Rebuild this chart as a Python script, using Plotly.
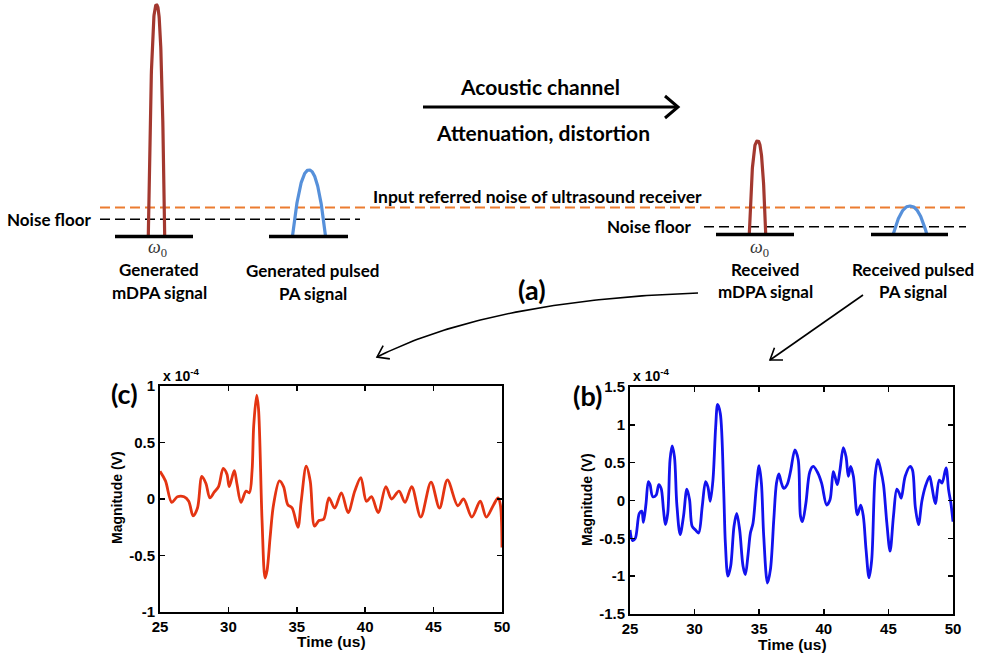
import numpy as np
import plotly.graph_objects as go

# ---------------- data ----------------
sig_c_t = [25, 25.4, 25.86, 26.27, 26.76, 27.1, 27.42, 27.74, 28.06, 28.35,
           28.65, 28.96, 29.28, 29.62, 29.89, 30.06, 30.43, 30.63, 30.92, 31.29,
           31.53, 31.73, 31.85, 32.07, 32.2, 32.46, 32.68, 32.83, 33.05, 33.3,
           33.73, 34.03, 34.34, 34.66, 35.08, 35.32, 35.69, 35.98, 36.3, 36.62,
           36.96, 37.35, 37.77, 38.26, 38.75, 39.24, 39.68, 40.09, 40.46, 40.95,
           41.51, 41.93, 42.47, 42.91, 43.4, 44.06, 44.81, 45.43, 46.01, 46.77,
           47.19, 47.8, 48.41, 48.85, 49.39, 49.71, 49.88, 50]
sig_c_v = [0.245, 0.16, -0.03, 0.02, 0.02, -0.02, -0.15, -0.08, 0.2, 0.14,
           0.01, 0.06, 0.11, 0.27, 0.22, 0.11, 0.25, 0.13, -0.03, 0.07,
           0.055, 0.25, 0.65, 0.92, 0.8, -0.19, -0.70, -0.63, -0.34, -0.05,
           0.16, 0.11, -0.05, -0.08, -0.25, -0.02, 0.29, 0.16, -0.24, -0.19,
           -0.18, 0.01, -0.08, 0.055, -0.12, 0.07, 0.19, -0.02, 0.02, -0.12,
           0.11, 0.0, 0.07, -0.03, 0.11, -0.16, 0.15, -0.08, 0.17, -0.06,
           0.0, -0.16, -0.02, -0.16, -0.05, 0.01, -0.05, -0.43]

sig_b_t = [25, 25.2, 25.41, 25.72, 25.91, 26.04, 26.24, 26.42, 26.55, 26.76,
           27.02, 27.23, 27.41, 27.59, 27.74, 27.92, 28.1, 28.26, 28.44, 28.62,
           28.88, 29.14, 29.4, 29.61, 29.81, 30.07, 30.31, 30.59, 30.85, 31.03,
           31.21, 31.42, 31.63, 31.78, 31.99, 32.25, 32.38, 32.58, 32.79, 33.05,
           33.26, 33.49, 33.75, 33.93, 34.14, 34.32, 34.52, 34.78, 34.99, 35.17,
           35.35, 35.64, 35.87, 36.13, 36.34, 36.52, 36.72, 36.9, 37.16, 37.42,
           37.76, 38.02, 38.2, 38.35, 38.61, 38.92, 39.18, 39.49, 39.83, 40.22,
           40.48, 40.73, 40.86, 41.05, 41.25, 41.51, 41.72, 41.9, 42.08, 42.29,
           42.6, 42.86, 43.06, 43.27, 43.5, 43.71, 43.97, 44.18, 44.41, 44.62,
           44.88, 45.13, 45.39, 45.65, 45.83, 45.99, 46.3, 46.69, 46.87, 47.08,
           47.33, 47.59, 47.85, 48.19, 48.37, 48.63, 48.94, 49.15, 49.46, 49.66,
           49.84, 50]
sig_b_v = [-0.39, -0.53, -0.5, -0.17, -0.14, -0.29, -0.04, 0.25, 0.21, 0.05,
           0.07, 0.21, 0.16, -0.12, -0.32, -0.17, 0.54, 0.72, 0.58, -0.04,
           -0.45, -0.21, 0.15, 0.01, -0.34, -0.39, -0.43, -0.08, 0.25, 0.18,
           -0.01, 0.27, 0.97, 1.27, 1.15, 0.14, -0.56, -1.0, -0.87, -0.34,
           -0.17, -0.39, -0.87, -0.98, -0.71, -0.43, -0.3, 0.18, 0.46, 0.23,
           -0.47, -1.09, -0.91, -0.25, 0.23, 0.35, 0.23, 0.16, 0.21, 0.38,
           0.67, 0.54, -0.21, -0.28, -0.04, 0.38, 0.45, 0.38, 0.23, -0.06,
           0.01, 0.38, 0.32, 0.21, 0.4, 0.7, 0.58, 0.32, 0.45, 0.32,
           -0.19, -0.06, -0.21, -0.65, -1.02, -0.78, 0.32, 0.54, 0.4, 0.21,
           -0.3, -0.67, -0.21, 0.15, 0.1, 0.03, 0.32, 0.45, 0.4, -0.08,
           -0.32, -0.01, 0.18, 0.32, 0.18, -0.04, 0.27, 0.23, 0.43, 0.14,
           -0.04, -0.28]

x_ticks = [25, 30, 35, 40, 45, 50]
x_ticktext = ["25", "30", "35", "40", "45", "50"]
c_yticks = [-1, -0.5, 0, 0.5, 1]
c_yticktext = ["-1", "-0.5", "0", "0.5", "1"]
b_yticks = [-1.5, -1, -0.5, 0, 0.5, 1, 1.5]
b_yticktext = ["-1.5", "-1", "-0.5", "0", "0.5", "1", "1.5"]

# diagram spectral arches (relative heights in the schematic)
arch_names = ["Generated mDPA", "Generated PA", "Received mDPA", "Received PA"]
arch_heights = [231, 66, 93, 28]

# ---------------- layout geometry (pixels) ----------------
W, H = 981, 659
FONT_DIAG = "Lato"
FONT_PLOT = "Liberation Sans"
RED = "rgb(228,52,18)"
BLUE = "rgb(18,18,238)"
DARKRED = "#A3382F"
LBLUE = "#5690DA"
ORANGE = "#EC7C30"

def dom_x(a, b):
    return [a / W, b / W]

def dom_y(top, bot):
    return [1 - bot / H, 1 - top / H]

def bold(labels):
    return ["<b>%s</b>" % s for s in labels]

fig = go.Figure()

def dline(xs, ys, color="black", width=2, dash=None):
    fig.add_trace(go.Scatter(x=xs, y=ys, mode="lines", xaxis="x3", yaxis="y3",
                             line=dict(color=color, width=width, dash=dash),
                             hoverinfo="skip", showlegend=False))

arch_cx = [156.5, 309, 757.5, 910]
arch_hw = [8.2, 16.5, 8.2, 16.7]
arch_base = [236, 236, 234, 234]
arch_col = [DARKRED, LBLUE, DARKRED, LBLUE]
arch_pow = [2.6, 2.2, 2.6, 2.2]
base_ext = [(115, 193), (269, 348), (716, 794), (871, 948)]

dline([100, 966], [207.5, 207.5], ORANGE, 1.8, "10px,5px")
dline([100, 360], [219.3, 219.3], "black", 1.5, "10px,5px")
dline([704, 966], [226.7, 226.7], "black", 1.5, "10px,5px")

for cx, hw, hb, h, col, p, (x0, x1) in zip(arch_cx, arch_hw, arch_base, arch_heights,
                                           arch_col, arch_pow, base_ext):
    u = np.linspace(-1, 1, 121)
    xs = cx + hw * u
    ys = hb - h * (1 - np.abs(u) ** p)
    dline(xs, ys, col, 3.2)
    dline([x0, x1], [hb + 0.5, hb + 0.5], "black", 3.5)

# channel arrow
dline([423, 678], [107, 107], "black", 3)
dline([665, 678, 665], [96, 107, 118], "black", 3)

# curved arrow (quadratic bezier)
tt = np.linspace(0, 1, 80)
P0, P1, P2 = np.array([698, 293]), np.array([490, 300]), np.array([377, 357])
bz = np.outer((1 - tt) ** 2, P0) + np.outer(2 * (1 - tt) * tt, P1) + np.outer(tt ** 2, P2)
dline(bz[:, 0], bz[:, 1], "black", 1.6)

def chevron(tip, direction, length=13, ang=35):
    d = np.array(direction, float)
    d = d / np.linalg.norm(d)
    back = -d
    out = []
    for s in (1, -1):
        a = np.radians(ang * s)
        r = np.array([back[0] * np.cos(a) - back[1] * np.sin(a),
                      back[0] * np.sin(a) + back[1] * np.cos(a)])
        out.append(np.array(tip) + length * r)
    dline([out[0][0], tip[0], out[1][0]], [out[0][1], tip[1], out[1][1]], "black", 1.6)

chevron(P2, P2 - P1)
dline([863, 770], [295, 360], "black", 1.6)
chevron((770, 360), (770 - 863, 360 - 295))

ann = []
def txt(x, y, s, size, xanchor="center", family=FONT_DIAG, bold=True, yanchor="middle",
        color="black", angle=0):
    ann.append(dict(x=x, y=y, xref="x3", yref="y3", text=s, showarrow=False,
                    xanchor=xanchor, yanchor=yanchor, textangle=angle,
                    font=dict(family=family, size=size, color=color,
                              weight="bold" if bold else "normal")))

txt(540, 86, "Acoustic channel", 21)
txt(543, 132, "Attenuation, distortion", 21)
txt(537, 196.5, "Input referred noise of ultrasound receiver", 17.5)
txt(94, 219, "Noise floor", 17, xanchor="right")
txt(694, 226, "Noise floor", 17, xanchor="right")
txt(157, 248, "<i>ω</i><sub>0</sub>", 18, family="Liberation Serif", bold=False, color="#333")
txt(759, 248, "<i>ω</i><sub>0</sub>", 18, family="Liberation Serif", bold=False, color="#333")
txt(159, 269.5, "Generated", 17)
txt(159, 292, "mDPA signal", 17)
txt(313, 270, "Generated pulsed", 17)
txt(313, 293, "PA signal", 17)
txt(765, 269, "Received", 17)
txt(765, 291.5, "mDPA signal", 17)
txt(913, 269, "Received pulsed", 17)
txt(913, 291.5, "PA signal", 17)
txt(531.5, 289, "(a)", 27)

txt(124, 393.5, "(c)", 27)
txt(587.5, 395, "(b)", 27)
for x0 in (160, 630):
    txt(x0 + 1, 375, "<b>x 10<sup>-4</sup></b>", 14, xanchor="left", family=FONT_PLOT)
txt(331, 641, "<b>Time (us)</b>", 15.5, family=FONT_PLOT)
txt(792, 644, "<b>Time (us)</b>", 15.5, family=FONT_PLOT)
txt(117, 498, "<b>Magnitude (V)</b>", 14, family=FONT_PLOT, angle=-90)
txt(587, 500, "<b>Magnitude (V)</b>", 14, family=FONT_PLOT, angle=-90)

# --- signal plots ---
fig.add_trace(go.Scatter(x=sig_c_t, y=sig_c_v, mode="lines", xaxis="x", yaxis="y",
                         line=dict(color=RED, width=2.8, shape="spline", smoothing=0.9),
                         showlegend=False, hoverinfo="skip"))
fig.add_trace(go.Scatter(x=sig_b_t, y=sig_b_v, mode="lines", xaxis="x2", yaxis="y2",
                         line=dict(color=BLUE, width=2.8, shape="spline", smoothing=0.9),
                         showlegend=False, hoverinfo="skip"))

tickfont = dict(family=FONT_PLOT, size=15, color="black")
common = dict(showline=True, linecolor="black", linewidth=2, mirror="ticks",
              ticks="inside", ticklen=5, tickwidth=1.5, tickcolor="black",
              showgrid=False, zeroline=False, tickfont=tickfont, fixedrange=True,
              automargin=False)

fig.update_layout(
    width=W, height=H, autosize=False,
    margin=dict(l=0, r=0, t=0, b=0, pad=0),
    paper_bgcolor="white", plot_bgcolor="rgba(0,0,0,0)",
    font=dict(color="black"),
    hovermode=False,
    xaxis=dict(domain=dom_x(160, 502), range=[25, 50], anchor="y",
               tickvals=x_ticks, ticktext=bold(x_ticktext), **common),
    yaxis=dict(domain=dom_y(386, 612), range=[-1, 1], anchor="x",
               tickvals=c_yticks, ticktext=bold(c_yticktext), **common),
    xaxis2=dict(domain=dom_x(630, 953), range=[25, 50], anchor="y2",
                tickvals=x_ticks, ticktext=bold(x_ticktext), **common),
    yaxis2=dict(domain=dom_y(387, 614), range=[-1.5, 1.5], anchor="x2",
                tickvals=b_yticks, ticktext=bold(b_yticktext), **common),
    xaxis3=dict(domain=[0, 1], range=[0, W], anchor="y3", visible=False, fixedrange=True),
    yaxis3=dict(domain=[0, 1], range=[H, 0], anchor="x3", visible=False, fixedrange=True),
    annotations=ann,
)

fig.write_html("out.html", config={"staticPlot": True},
               post_script="document.body.style.margin='0';document.body.style.overflow='hidden';")
